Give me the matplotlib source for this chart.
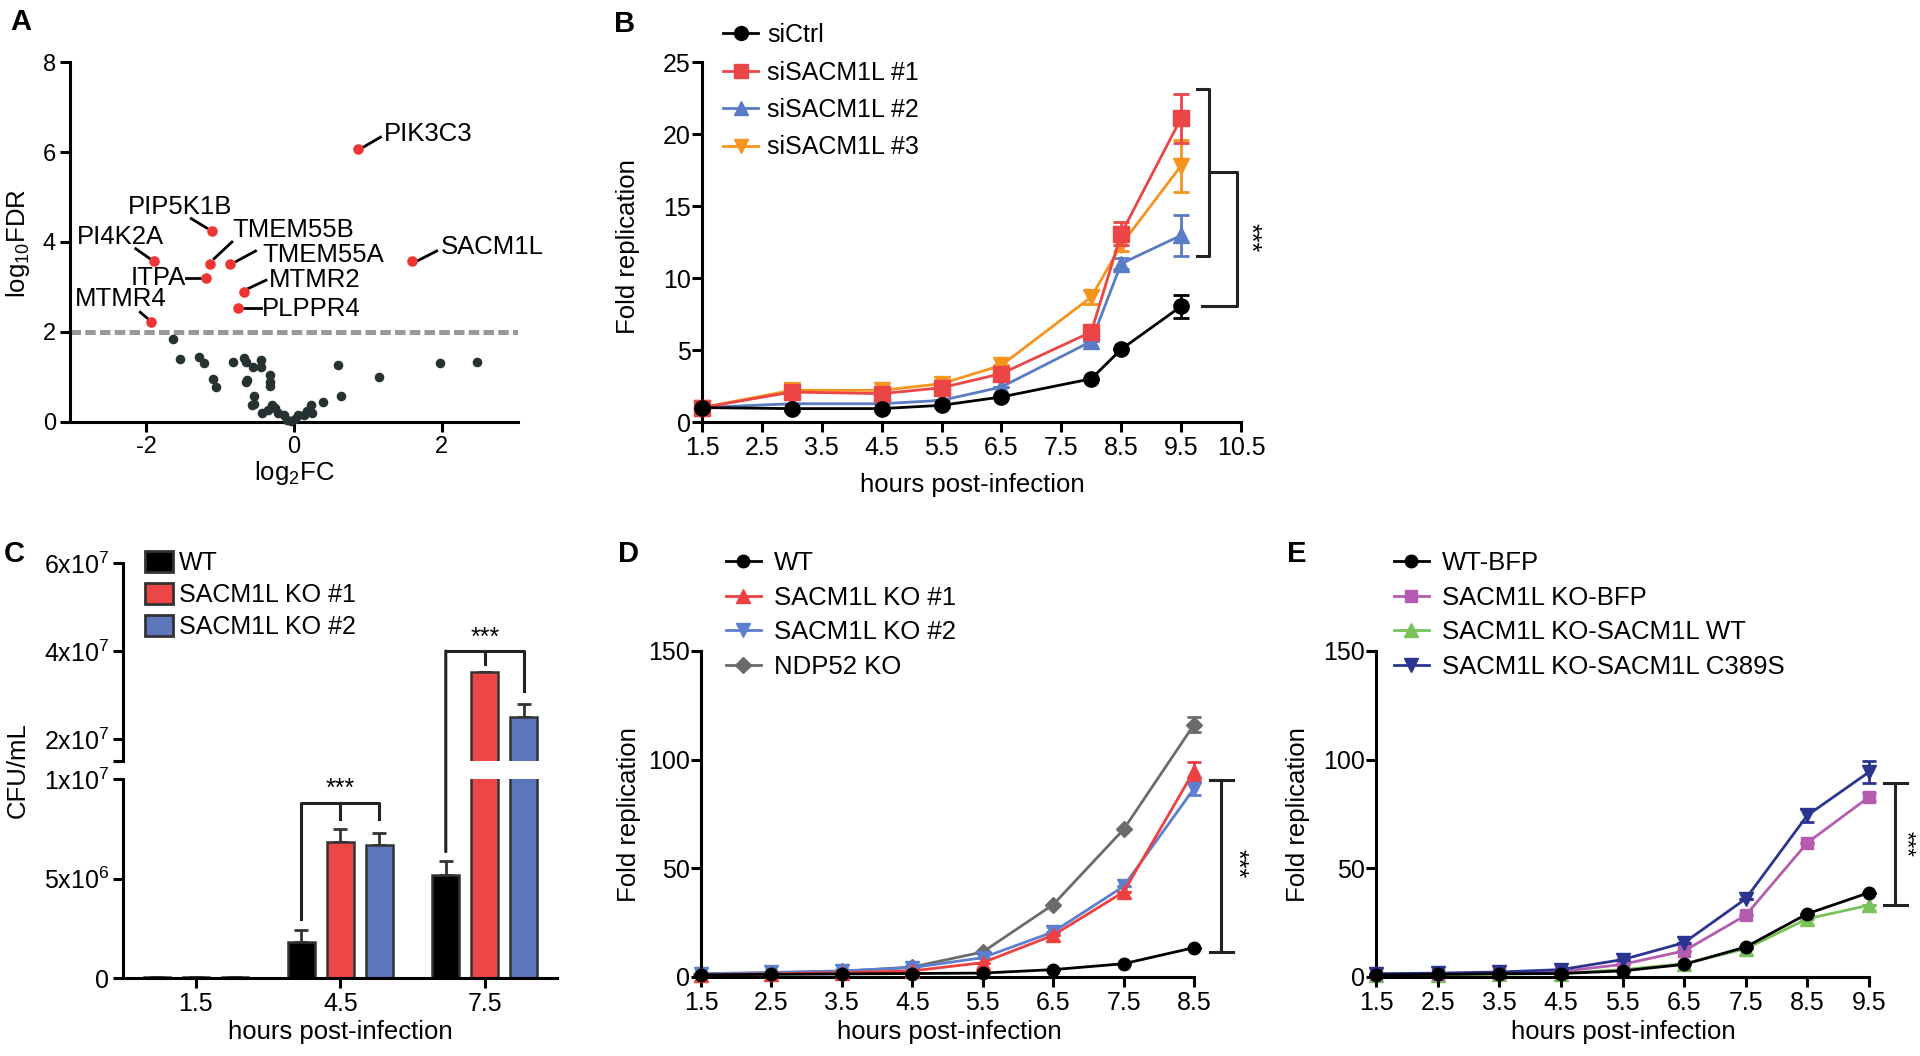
import numpy as np
import matplotlib
matplotlib.use('Agg')
from matplotlib import pyplot as plt
from matplotlib.patches import ConnectionPatch, Patch
from matplotlib.lines import Line2D

SANS = 'Liberation Sans'
plt.rcParams['font.family'] = [SANS, 'DejaVu Sans']
plt.rcParams['mathtext.fontset'] = 'custom'
plt.rcParams['mathtext.rm'] = SANS
plt.rcParams['mathtext.it'] = SANS + ':italic'
plt.rcParams['axes.linewidth'] = 2.2

# ---- data: panel A (volcano) ----
hit_genes = ['PIK3C3', 'PIP5K1B', 'PI4K2A', 'TMEM55B', 'TMEM55A',
             'ITPA', 'MTMR2', 'PLPPR4', 'MTMR4', 'SACM1L']
hit_fc = [0.86, -1.11, -1.90, -1.14, -0.86, -1.19, -0.67, -0.76, -1.93, 1.60]
hit_fdr = [6.06, 4.24, 3.57, 3.52, 3.52, 3.21, 2.90, 2.54, 2.22, 3.57]
other_fc = [-1.63, -1.54, -1.28, -1.22, -1.10, -1.05, -0.83, -0.67, -0.65, -0.56,
            -0.44, -0.45, -0.32, -0.32, -0.32, -0.65, -0.63, -0.54, -0.54, -0.57,
            -0.43, -0.35, -0.26, -0.21, -0.14, -0.09, -0.04, 0.01, 0.06, 0.13,
            0.23, 0.25, 0.39, 0.60, 0.64, 1.15, 1.97, 2.47, 0.18, -0.30]
other_fdr = [1.85, 1.39, 1.44, 1.32, 0.95, 0.78, 1.33, 1.43, 1.33, 1.22,
             1.37, 1.22, 1.05, 0.89, 0.81, 0.89, 0.93, 0.57, 0.39, 0.37,
             0.19, 0.27, 0.32, 0.19, 0.15, 0.05, 0.02, 0.07, 0.15, 0.15,
             0.37, 0.19, 0.44, 1.27, 0.58, 1.00, 1.32, 1.33, 0.24, 0.37]
fdr_cut = 2

# ---- data: panel B ----
hours_b = [1.5, 3, 4.5, 5.5, 6.5, 8, 8.5, 9.5]
b_labels = ['siCtrl', 'siSACM1L #1', 'siSACM1L #2', 'siSACM1L #3']
b_ctrl = [1.0, 0.93, 0.93, 1.16, 1.74, 3.0, 5.05, 8.03]
b_si1 = [1.0, 2.08, 1.97, 2.38, 3.36, 6.25, 13.08, 21.1]
b_si2 = [1.0, 1.27, 1.27, 1.50, 2.43, 5.6, 11.0, 12.96]
b_si3 = [1.0, 2.2, 2.2, 2.66, 3.94, 8.68, 12.3, 17.8]
b_ctrl_err = [0, 0, 0, 0, 0, 0, 0, 0.8]
b_si1_err = [0, 0, 0, 0, 0, 0, 0.8, 1.7]
b_si2_err = [0, 0, 0, 0, 0, 0, 0.4, 1.4]
b_si3_err = [0, 0, 0, 0, 0, 0.5, 0.4, 1.8]

# ---- data: panel C ----
c_groups = ['1.5', '4.5', '7.5']
c_labels = ['WT', 'SACM1L KO #1', 'SACM1L KO #2']
c_wt = [4e4, 1.82e6, 5.18e6]
c_ko1 = [6e4, 6.82e6, 3.52e7]
c_ko2 = [5e4, 6.67e6, 2.51e7]
c_wt_err = [1e4, 0.58e6, 0.70e6]
c_ko1_err = [1e4, 0.68e6, 0]
c_ko2_err = [1e4, 0.61e6, 0.28e7]

# ---- data: panel D ----
hours_d = [1.5, 2.5, 3.5, 4.5, 5.5, 6.5, 7.5, 8.5]
d_labels = ['WT', 'SACM1L KO #1', 'SACM1L KO #2', 'NDP52 KO']
d_wt = [1.0, 1.2, 1.4, 1.6, 1.8, 3.4, 6.1, 13.5]
d_ko1 = [1.0, 1.5, 2.0, 2.8, 6.6, 19.2, 39.1, 94.8]
d_ko2 = [1.5, 2.1, 2.8, 4.3, 8.9, 20.7, 41.7, 86.7]
d_ndp = [1.3, 1.9, 2.6, 4.6, 11.5, 33.3, 67.9, 116.1]
d_ko1_err = [0, 0, 0, 0, 0, 0, 0, 4]
d_ko2_err = [0, 0, 0, 0, 0, 0, 0, 3]
d_ndp_err = [0, 0, 0, 0, 0, 0, 0, 3.5]

# ---- data: panel E ----
hours_e = [1.5, 2.5, 3.5, 4.5, 5.5, 6.5, 7.5, 8.5, 9.5]
e_labels = ['WT-BFP', 'SACM1L KO-BFP', 'SACM1L KO-SACM1L WT', 'SACM1L KO-SACM1L C389S']
e_wt = [1.0, 1.2, 1.5, 1.6, 2.8, 5.8, 13.8, 29.1, 38.8]
e_kobfp = [1.2, 1.4, 1.9, 2.5, 5.8, 12.0, 28.4, 61.8, 82.8]
e_resc = [0.8, 1.0, 1.3, 1.6, 3.4, 6.1, 13.0, 26.8, 33.0]
e_mut = [1.5, 1.8, 2.3, 3.4, 8.0, 15.8, 36.0, 74.4, 94.3]
e_kobfp_err = [0, 0, 0, 0, 0, 0, 0, 0, 2]
e_mut_err = [0, 0, 0, 0, 0, 0, 0, 3, 5]

W, H = 1920, 1056
fig = plt.figure(figsize=(W / 100, H / 100), dpi=100)


def box(l, t, r, b):
    return [l / W, 1 - b / H, (r - l) / W, (b - t) / H]


def fx(px):
    return px / W


def fy(py):
    return 1 - py / H


def style(ax, fsize=18):
    for s in ['top', 'right']:
        ax.spines[s].set_visible(False)
    ax.tick_params(direction='out', length=7, width=2.2, labelsize=fsize, pad=3)


def bracket(ax, pts):
    xs, ys = zip(*pts)
    ax.plot(xs, ys, color='#222222', lw=2.2, clip_on=False, zorder=6)


# ================= A =================
axA = fig.add_axes(box(70, 62, 518, 422))
axA.axhline(fdr_cut, color='#999999', lw=3.6, dashes=(2.1, 0.85), zorder=1)
axA.scatter(other_fc, other_fdr, s=48, color='#263131', zorder=3, clip_on=False, lw=0)
axA.scatter(hit_fc, hit_fdr, s=58, color='#ee3535', zorder=4, clip_on=False, lw=0)
lab_layout = {
    'PIK3C3': (1.22, 6.41, 'left', (0.93, 6.1, 1.17, 6.33)),
    'PIP5K1B': (-1.54, 4.78, 'center', (-1.39, 4.52, -1.18, 4.31)),
    'PI4K2A': (-2.35, 4.11, 'center', (-2.14, 3.85, -1.95, 3.63)),
    'TMEM55B': (-0.83, 4.26, 'left', (-1.08, 3.63, -0.84, 4.0)),
    'TMEM55A': (-0.43, 3.70, 'left', (-0.78, 3.57, -0.52, 3.8)),
    'ITPA': (-1.46, 3.21, 'right', (-1.46, 3.21, -1.25, 3.21)),
    'MTMR2': (-0.34, 3.16, 'left', (-0.64, 2.95, -0.38, 3.15)),
    'PLPPR4': (-0.43, 2.52, 'left', (-0.67, 2.54, -0.45, 2.54)),
    'MTMR4': (-2.34, 2.74, 'center', (-2.08, 2.44, -1.98, 2.3)),
    'SACM1L': (1.98, 3.89, 'left', (1.68, 3.59, 1.93, 3.8)),
}
for g in hit_genes:
    tx, ty, ha, (x0, y0, x1, y1) = lab_layout[g]
    axA.text(tx, ty, g, ha=ha, va='center', fontsize=18.5)
    axA.plot([x0, x1], [y0, y1], color='black', lw=2)
axA.set_xlim(-3.03, 3.03)
axA.set_ylim(0, 8)
axA.set_xticks([-2, 0, 2])
axA.set_xticklabels(['-2', '0', '2'])
axA.set_yticks([0, 2, 4, 6, 8])
style(axA, 17)

fig.text(fx(18), fy(243), 'log$_{10}$FDR', rotation=90, ha='center', va='center', fontsize=18.5)
fig.text(fx(294), fy(473), 'log$_2$FC', ha='center', va='center', fontsize=18.5)

# ================= B =================
axB = fig.add_axes(box(702, 62, 1241, 422))
b_series = [
    (b_si2, b_si2_err, '#5a7cc4', '^', 1),
    (b_si3, b_si3_err, '#f7941d', 'v', 2),
    (b_si1, b_si1_err, '#ec4545', 's', 3),
    (b_ctrl, b_ctrl_err, '#000000', 'o', 4),
]
for vals, err, col, mk, z in b_series:
    axB.errorbar(hours_b, vals, yerr=err, color=col, marker=mk, ms=11, lw=2,
                 elinewidth=2, capsize=5.5, capthick=2, zorder=z, clip_on=False)
axB.set_xlim(1.5, 10.5)
axB.set_ylim(0, 25)
axB.set_xticks(np.arange(1.5, 10.6, 1))
axB.set_xticklabels([f'{v:.1f}' for v in np.arange(1.5, 10.6, 1)])
axB.set_yticks([0, 5, 10, 15, 20, 25])
style(axB, 18)
axB.tick_params(axis='y', pad=1)

top1 = b_si1[-1] + b_si1_err[-1] + 0.35
bot1 = b_si2[-1] - b_si2_err[-1]
mid1 = (top1 + bot1) / 2
bracket(axB, [(9.77, top1), (9.97, top1), (9.97, bot1), (9.77, bot1)])
bracket(axB, [(9.97, mid1), (10.44, mid1), (10.44, b_ctrl[-1]), (9.85, b_ctrl[-1])])
axB.text(10.64, (mid1 + b_ctrl[-1]) / 2 + 0.1, '***', rotation=270, ha='center', va='center',
         fontsize=18, clip_on=False)

hB = [Line2D([], [], color=c, marker=m, ms=10, lw=2) for c, m in
      [('#000000', 'o'), ('#ec4545', 's'), ('#5a7cc4', '^'), ('#f7941d', 'v')]]
axB.legend(hB, b_labels, loc='upper left', bbox_to_anchor=(fx(723), fy(23)),
           bbox_transform=fig.transFigure, frameon=False, borderpad=0, borderaxespad=0,
           handlelength=1.4, handletextpad=0.36, labelspacing=0.54, fontsize=18)

fig.text(fx(628), fy(247), 'Fold replication', rotation=90, ha='center', va='center',
         fontsize=18.5)
fig.text(fx(972), fy(485), 'hours post-infection', ha='center', va='center', fontsize=18.5)

# ================= C =================
axCu = fig.add_axes(box(123, 563, 557, 761))
axCl = fig.add_axes(box(123, 779, 557, 978))
xpos = np.arange(len(c_groups))
off, bw = 0.27, 0.185
c_series = [(c_wt, c_wt_err, '#000000', -off), (c_ko1, c_ko1_err, '#ec4646', 0),
            (c_ko2, c_ko2_err, '#5b76bb', off)]
for ax in (axCu, axCl):
    for vals, err, col, dx in c_series:
        ax.bar(xpos + dx, vals, width=bw, color=col, edgecolor='#333333', lw=1.8, zorder=2)
        ax.errorbar(xpos + dx, vals, yerr=[np.zeros(len(err)), err], fmt='none',
                    ecolor='#333333', elinewidth=2, capsize=5, capthick=2, zorder=1)
    ax.set_xlim(-0.505, 2.5)
axCu.set_ylim(1.5e7, 6e7)
axCl.set_ylim(0, 1e7)
axCu.spines['bottom'].set_visible(False)
axCu.set_xticks([])
axCu.set_yticks([1.5e7, 2e7, 4e7, 6e7])
axCu.set_yticklabels(['', '2x10$^7$', '4x10$^7$', '6x10$^7$'])
axCl.set_yticks([0, 5e6, 1e7])
axCl.set_yticklabels(['0', '5x10$^6$', '1x10$^7$'])
axCl.set_xticks(xpos)
axCl.set_xticklabels(c_groups)
style(axCu, 18)
style(axCl, 18)

# bracket at 4.5
g = 1
ytop = c_ko1[g] + c_ko1_err[g] + 1.3e6
yleg = c_ko1[g] + c_ko1_err[g] + 0.5e6
bracket(axCl, [(g - off, c_wt[g] + c_wt_err[g] + 0.55e6), (g - off, ytop), (g + off, ytop),
               (g + off, yleg)])
bracket(axCl, [(g, ytop), (g, yleg)])
axCl.text(g, ytop + 0.1e6, '***', ha='center', va='bottom', fontsize=18)
# bracket at 7.5 (crosses the axis break)
g = 2
ytop = 4e7
bracket(axCu, [(g - off, ytop), (g + off, ytop), (g + off, c_ko2[g] + c_ko2_err[g] + 0.3e7)])
bracket(axCu, [(g, ytop), (g, c_ko1[g] + 0.18e7)])
con = ConnectionPatch(xyA=(g - off, ytop), coordsA=axCu.transData,
                      xyB=(g - off, c_wt[g] + c_wt_err[g] + 0.47e6), coordsB=axCl.transData,
                      color='#222222', lw=2.2, zorder=6)
fig.add_artist(con)
axCu.text(g, ytop + 0.03e7, '***', ha='center', va='bottom', fontsize=18)

hC = [Patch(facecolor=c, edgecolor='#333333', lw=2) for c in ['#000000', '#ec4646', '#5b76bb']]
axCu.legend(hC, c_labels, loc='upper left', bbox_to_anchor=(fx(145), fy(551)),
            bbox_transform=fig.transFigure, frameon=False, borderpad=0, borderaxespad=0,
            handlelength=1.1, handleheight=0.92, handletextpad=0.25, labelspacing=0.32,
            fontsize=18)

fig.text(fx(18), fy(770), 'CFU/mL', rotation=90, ha='center', va='center', fontsize=18.5)
fig.text(fx(340), fy(1032), 'hours post-infection', ha='center', va='center', fontsize=18.5)

# ================= D =================
axD = fig.add_axes(box(701, 651, 1194, 977))
d_series = [
    (d_ndp, d_ndp_err, '#6b6b6b', 'D', 1, 8),
    (d_ko2, d_ko2_err, '#5d7fcf', 'v', 2, 10),
    (d_ko1, d_ko1_err, '#ee4040', '^', 3, 10),
    (d_wt, [0] * len(d_wt), '#000000', 'o', 4, 9),
]
for vals, err, col, mk, z, ms in d_series:
    axD.errorbar(hours_d, vals, yerr=err, color=col, marker=mk, ms=ms, lw=2,
                 elinewidth=2, capsize=5, capthick=2, zorder=z, clip_on=False)
axD.set_xlim(1.5, 8.5)
axD.set_ylim(0, 150)
axD.set_xticks(hours_d)
axD.set_xticklabels([f'{v:.1f}' for v in hours_d])
axD.set_yticks([0, 50, 100, 150])
style(axD, 18)
axD.tick_params(axis='y', pad=1)
dtop = (d_ko1[-1] + d_ko2[-1]) / 2
bracket(axD, [(8.73, dtop), (9.06, dtop)])
bracket(axD, [(8.89, dtop), (8.89, d_wt[-1] - 2)])
bracket(axD, [(8.73, d_wt[-1] - 2), (9.06, d_wt[-1] - 2)])
axD.text(9.1, (dtop + d_wt[-1]) / 2, '***', rotation=270, ha='center', va='center',
         fontsize=18, clip_on=False)
hD = [Line2D([], [], color=c, marker=m, ms=ms, lw=2) for c, m, ms in
      [('#000000', 'o', 9), ('#ee4040', '^', 10), ('#5d7fcf', 'v', 10), ('#6b6b6b', 'D', 8)]]
axD.legend(hD, d_labels, loc='upper left', bbox_to_anchor=(fx(726), fy(551)),
           bbox_transform=fig.transFigure, frameon=False, borderpad=0, borderaxespad=0,
           handlelength=1.35, handletextpad=0.5, labelspacing=0.41, fontsize=18.5)
fig.text(fx(629), fy(815), 'Fold replication', rotation=90, ha='center', va='center',
         fontsize=18.5)
fig.text(fx(949), fy(1032), 'hours post-infection', ha='center', va='center', fontsize=18.5)

# ================= E =================
axE = fig.add_axes(box(1376, 651, 1869, 977))
e_series = [
    (e_resc, [0] * len(e_resc), '#79c25a', '^', 1, 10),
    (e_kobfp, e_kobfp_err, '#b35cb0', 's', 2, 9),
    (e_mut, e_mut_err, '#2b3590', 'v', 3, 10),
    (e_wt, [0] * len(e_wt), '#000000', 'o', 4, 9),
]
for vals, err, col, mk, z, ms in e_series:
    axE.errorbar(hours_e, vals, yerr=err, color=col, marker=mk, ms=ms, lw=2,
                 elinewidth=2, capsize=5, capthick=2, zorder=z, clip_on=False)
axE.set_xlim(1.5, 9.5)
axE.set_ylim(0, 150)
axE.set_xticks(hours_e)
axE.set_xticklabels([f'{v:.1f}' for v in hours_e])
axE.set_yticks([0, 50, 100, 150])
style(axE, 18)
axE.tick_params(axis='y', pad=1)
etop = e_mut[-1] - e_mut_err[-1]
bracket(axE, [(9.74, etop), (10.12, etop)])
bracket(axE, [(9.92, etop), (9.92, e_resc[-1])])
bracket(axE, [(9.74, e_resc[-1]), (10.12, e_resc[-1])])
axE.text(10.1, (etop + e_resc[-1]) / 2, '***', rotation=270, ha='center', va='center',
         fontsize=16, clip_on=False)
hE = [Line2D([], [], color=c, marker=m, ms=ms, lw=2) for c, m, ms in
      [('#000000', 'o', 9), ('#b35cb0', 's', 9), ('#79c25a', '^', 10), ('#2b3590', 'v', 10)]]
axE.legend(hE, e_labels, loc='upper left', bbox_to_anchor=(fx(1394), fy(551)),
           bbox_transform=fig.transFigure, frameon=False, borderpad=0, borderaxespad=0,
           handlelength=1.35, handletextpad=0.5, labelspacing=0.41, fontsize=18.5)
fig.text(fx(1298), fy(815), 'Fold replication', rotation=90, ha='center', va='center',
         fontsize=18.5)
fig.text(fx(1623), fy(1032), 'hours post-infection', ha='center', va='center', fontsize=18.5)

# ---- panel letters ----
for letter, px, py in [('A', 10, 8), ('B', 614, 10), ('C', 4, 540), ('D', 618, 540), ('E', 1287, 540)]:
    fig.text(fx(px), fy(py), letter, ha='left', va='top', fontsize=21, fontweight='bold')

fig.savefig('out.png', dpi=100)
